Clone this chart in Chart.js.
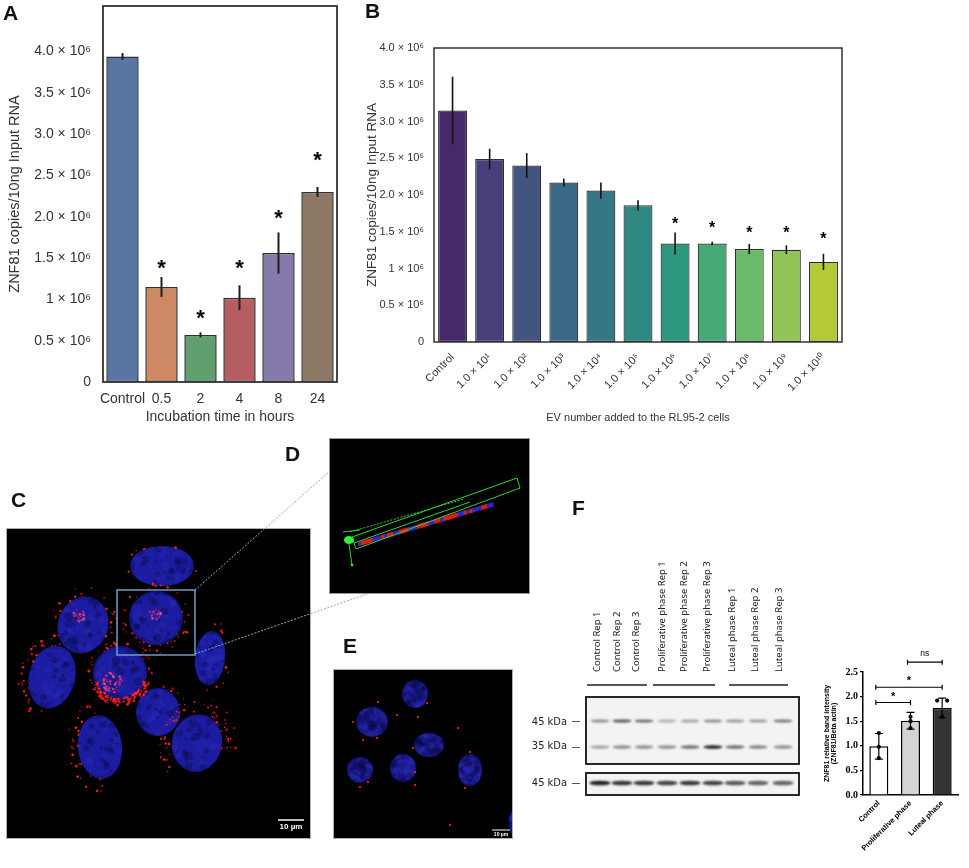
<!DOCTYPE html>
<html>
<head>
<meta charset="utf-8">
<title>ZNF81 figure</title>
<script src="https://cdn.jsdelivr.net/npm/chart.js@4.4.1/dist/chart.umd.min.js"></script>
<style>
  html, body { margin: 0; padding: 0; background: #fff; }
  #page { position: relative; width: 969px; height: 868px; overflow: hidden; font-family: 'Liberation Sans', Arial, sans-serif; }
  canvas { position: absolute; }
  .letter { position: absolute; font: bold 21px/21px 'Liberation Sans', Arial, sans-serif; color: #111; z-index: 3; }
  .kda { position: absolute; width: 60px; text-align: right; font: 11px/12px 'Liberation Sans Narrow', 'DejaVu Sans Condensed', 'Liberation Sans', sans-serif; color: #222; z-index: 3; }
  .lane { position: absolute; top: 672px; transform-origin: 0 0; transform: rotate(-90deg); white-space: nowrap; font: 9.5px/12px 'Noto Sans', sans-serif; color: #222; z-index: 3; }
  .scalebar { position: absolute; color: #fff; font-weight: bold; white-space: nowrap; text-align: center; z-index: 3; }
</style>
</head>
<body>
<div id="page">
  <canvas id="pics" width="969" height="868" style="left:0;top:0;z-index:0"></canvas>
  <canvas id="chartA" width="345" height="428" style="left:0;top:0;z-index:1"></canvas>
  <canvas id="chartB" width="497" height="428" style="left:358px;top:0;z-index:1"></canvas>
  <canvas id="chartF" width="154" height="228" style="left:815px;top:640px;z-index:1"></canvas>

  <div class="letter" style="left:3px;top:2px">A</div>
  <div class="letter" style="left:365px;top:0px">B</div>
  <div class="letter" style="left:11px;top:489px">C</div>
  <div class="letter" style="left:285px;top:443px">D</div>
  <div class="letter" style="left:343px;top:635px">E</div>
  <div class="letter" style="left:572px;top:497px">F</div>

  <div class="scalebar" style="left:276px;top:822px;width:30px;font-size:8px;line-height:10px">10 µm</div>
  <div class="scalebar" style="left:489px;top:831px;width:24px;font-size:5px;line-height:6px">10 µm</div>

  <div class="kda" style="left:507px;top:716px">45 kDa</div>
  <div class="kda" style="left:507px;top:740px">35 kDa</div>
  <div class="kda" style="left:507px;top:777px">45 kDa</div>
  <div id="lanes"></div>
</div>

<script>
const SANS = "'Liberation Sans', Arial, sans-serif";
const SERIF = "'Liberation Serif', 'Times New Roman', serif";

// Panel A - incubation time
const hoursLabels = ['Control', '0.5', '2', '4', '8', '24'];
const hoursMean = [3.94e6, 1.15e6, 0.57e6, 1.02e6, 1.56e6, 2.30e6];
const hoursErr = [0.04e6, 0.12e6, 0.03e6, 0.15e6, 0.25e6, 0.06e6];
const hoursStar = [null, 1.45e6, 0.84e6, 1.45e6, 2.06e6, 2.76e6];
const hoursColors = ['#5975a4', '#cc8963', '#5f9e6e', '#b55d60', '#857aab', '#8d7866'];

// Panel B - EV number
const evLabels = ['Control', '1.0 × 10¹', '1.0 × 10²', '1.0 × 10³', '1.0 × 10⁴', '1.0 × 10⁵',
  '1.0 × 10⁶', '1.0 × 10⁷', '1.0 × 10⁸', '1.0 × 10⁹', '1.0 × 10¹⁰'];
const evMean = [3.15e6, 2.49e6, 2.40e6, 2.17e6, 2.06e6, 1.86e6, 1.34e6, 1.34e6, 1.265e6, 1.255e6, 1.09e6];
const evErr = [0.46e6, 0.14e6, 0.17e6, 0.055e6, 0.11e6, 0.07e6, 0.15e6, 0.025e6, 0.07e6, 0.06e6, 0.11e6];
const evStar = [null, null, null, null, null, null, 1.66e6, 1.61e6, 1.545e6, 1.545e6, 1.455e6];
const evColors = ['#47296b', '#473f7a', '#43557f', '#3c6985', '#367685', '#2f8882', '#2e987e',
  '#45aa75', '#69ba6a', '#92c45a', '#b5c938'];

// shared y ticks of A and B
const copyTicks = [0, 0.5e6, 1e6, 1.5e6, 2e6, 2.5e6, 3e6, 3.5e6, 4e6];
const copyTickLabels = ['0', '0.5 × 10⁶', '1 × 10⁶', '1.5 × 10⁶', '2.0 × 10⁶', '2.5 × 10⁶',
  '3.0 × 10⁶', '3.5 × 10⁶', '4.0 × 10⁶'];

// Panel F - band intensity
const phaseLabels = ['Control', 'Proliferative phase', 'Luteal phase'];
const phaseMean = [0.99, 1.51, 1.77];
const phaseSD = [0.26, 0.17, 0.20];
const phasePoints = [[1.26, 0.98, 0.75], [1.59, 1.50, 1.36], [1.92, 1.92, 1.59]];
const phaseTicks = [0, 0.5, 1.0, 1.5, 2.0, 2.5];
const phaseCompare = [[0, 1, 1.88, '*'], [0, 2, 2.19, '*'], [1, 2, 2.70, 'ns']];

// blot lane labels
const laneLabels = ['Control Rep 1', 'Control Rep 2', 'Control Rep 3',
  'Proliferative phase Rep 1', 'Proliferative phase Rep 2', 'Proliferative phase Rep 3',
  'Luteal phase Rep 1', 'Luteal phase Rep 2', 'Luteal phase Rep 3'];

// error bars, stars and full frame for the seaborn-like panels
function errorMarks(mean, err, stars, o) {
  return {
    id: 'errorMarks',
    afterDatasetsDraw(chart) {
      const { ctx, chartArea: a, scales: { x, y } } = chart;
      ctx.save();
      ctx.strokeStyle = o.errColor;
      ctx.lineWidth = o.errWidth;
      mean.forEach((m, i) => {
        const px = x.getPixelForValue(i);
        ctx.beginPath();
        ctx.moveTo(px, y.getPixelForValue(m - err[i]));
        ctx.lineTo(px, y.getPixelForValue(m + err[i]));
        ctx.stroke();
      });
      ctx.fillStyle = '#000';
      ctx.font = `bold ${o.starSize}px ${SANS}`;
      ctx.textAlign = 'center';
      ctx.textBaseline = 'alphabetic';
      stars.forEach((s, i) => {
        if (s === null) return;
        ctx.fillText('*', x.getPixelForValue(i), y.getPixelForValue(s) + o.starSize * 0.58);
      });
      ctx.strokeStyle = o.frameColor;
      ctx.lineWidth = o.frameWidth;
      ctx.strokeRect(a.left, a.top, a.right - a.left, a.bottom - a.top);
      ctx.restore();
    }
  };
}

function copyScaleY(max, font, pad, width, title, titleFont, titlePad) {
  return {
    min: 0, max: max,
    grid: { display: false, drawTicks: false },
    border: { display: false },
    afterBuildTicks: s => { s.ticks = copyTicks.map(v => ({ value: v })); },
    ticks: {
      color: '#333', font: font, padding: pad,
      callback: v => copyTickLabels[copyTicks.indexOf(v)]
    },
    title: { display: true, text: title, color: '#333', font: titleFont, padding: { top: titlePad, bottom: 0 } },
    afterFit: s => { s.width = width; s.paddingTop = 0; s.paddingBottom = 0; }
  };
}

new Chart(document.getElementById('chartA'), {
  type: 'bar',
  data: {
    labels: hoursLabels,
    datasets: [{
      data: hoursMean,
      backgroundColor: hoursColors,
      borderColor: '#2e2e2e',
      borderWidth: 1.5,
      borderSkipped: false,
      barPercentage: 0.83,
      categoryPercentage: 1
    }]
  },
  options: {
    responsive: false,
    animation: false,
    layout: { padding: { top: 6, right: 8, left: 0, bottom: 0 } },
    plugins: { legend: { display: false }, tooltip: { enabled: false } },
    scales: {
      x: {
        grid: { display: false, drawTicks: false },
        border: { display: false },
        ticks: { color: '#333', font: { family: SANS, size: 14 }, padding: 9, autoSkip: false, maxRotation: 0 },
        title: { display: true, text: 'Incubation time in hours', color: '#333', font: { family: SANS, size: 14 }, padding: { top: 0, bottom: 2 } },
        afterFit: s => { s.height = 46; s.paddingLeft = 0; s.paddingRight = 0; }
      },
      y: copyScaleY(4.55e6, { family: SANS, size: 14 }, 12, 103,
        'ZNF81 copies/10ng Input RNA', { family: SANS, size: 14.5 }, 6)
    }
  },
  plugins: [errorMarks(hoursMean, hoursErr, hoursStar,
    { errColor: '#1e1e1e', errWidth: 2, starSize: 22, frameColor: '#333', frameWidth: 1.8 })]
});

new Chart(document.getElementById('chartB'), {
  type: 'bar',
  data: {
    labels: evLabels,
    datasets: [{
      data: evMean,
      backgroundColor: evColors,
      borderColor: '#2e2e2e',
      borderWidth: 1.2,
      borderSkipped: false,
      barPercentage: 0.78,
      categoryPercentage: 1
    }]
  },
  options: {
    responsive: false,
    animation: false,
    layout: { padding: { top: 48, right: 13, left: 0, bottom: 0 } },
    plugins: { legend: { display: false }, tooltip: { enabled: false } },
    scales: {
      x: {
        grid: { display: false, drawTicks: false },
        border: { display: false },
        ticks: { color: '#333', font: { family: SANS, size: 11 }, padding: 9, autoSkip: false, minRotation: 45, maxRotation: 45 },
        title: { display: true, text: 'EV number added to the RL95-2 cells', color: '#333', font: { family: SANS, size: 11 }, padding: { top: 0, bottom: 3 } },
        afterFit: s => { s.height = 86; s.paddingLeft = 0; s.paddingRight = 0; }
      },
      y: copyScaleY(4e6, { family: SANS, size: 11 }, 10, 76,
        'ZNF81 copies/10ng Input RNA', { family: SANS, size: 13.5 }, 6)
    }
  },
  plugins: [errorMarks(evMean, evErr, evStar,
    { errColor: '#111', errWidth: 1.6, starSize: 16, frameColor: '#333', frameWidth: 1.5 })]
});

// Panel F: SD bars, replicate points, significance brackets
const phaseMarks = {
  id: 'phaseMarks',
  afterDatasetsDraw(chart) {
    const { ctx, scales: { x, y } } = chart;
    ctx.save();
    ctx.strokeStyle = '#000';
    ctx.fillStyle = '#000';
    ctx.lineWidth = 1.2;
    phaseMean.forEach((m, i) => {
      const px = x.getPixelForValue(i);
      const top = y.getPixelForValue(m + phaseSD[i]);
      const bot = y.getPixelForValue(m - phaseSD[i]);
      ctx.beginPath();
      ctx.moveTo(px, top); ctx.lineTo(px, bot);
      ctx.moveTo(px - 4, top); ctx.lineTo(px + 4, top);
      ctx.moveTo(px - 4, bot); ctx.lineTo(px + 4, bot);
      ctx.stroke();
      const pts = phasePoints[i];
      pts.forEach((v, j) => {
        const twin = pts.findIndex((w, k) => k !== j && w === v);
        const dx = twin < 0 ? 0 : (twin > j ? -5 : 5);
        ctx.beginPath();
        ctx.arc(px + dx, y.getPixelForValue(v), 2.1, 0, Math.PI * 2);
        ctx.fill();
      });
    });
    ctx.textAlign = 'center';
    phaseCompare.forEach(([a, b, v, txt]) => {
      const x1 = x.getPixelForValue(a) - 3, x2 = x.getPixelForValue(b), py = y.getPixelForValue(v);
      ctx.beginPath();
      ctx.moveTo(x1, py); ctx.lineTo(x2, py);
      ctx.moveTo(x1, py - 2.5); ctx.lineTo(x1, py + 2.5);
      ctx.moveTo(x2, py - 2.5); ctx.lineTo(x2, py + 2.5);
      ctx.stroke();
      ctx.textBaseline = 'alphabetic';
      if (txt === '*') {
        ctx.font = `bold 11px ${SANS}`;
        ctx.fillText(txt, (x1 + x2) / 2, py - 3);
      } else {
        ctx.font = `8.5px ${SANS}`;
        ctx.fillText(txt, (x1 + x2) / 2, py - 6);
      }
    });
    ctx.restore();
  }
};

new Chart(document.getElementById('chartF'), {
  type: 'bar',
  data: {
    labels: phaseLabels,
    datasets: [{
      data: phaseMean,
      backgroundColor: ['#ffffff', '#d4d4d4', '#333333'],
      borderColor: '#000',
      borderWidth: 1.5,
      borderSkipped: 'bottom',
      barPercentage: 0.6,
      categoryPercentage: 1
    }]
  },
  options: {
    responsive: false,
    animation: false,
    layout: { padding: { top: 32, right: 11, left: 0, bottom: 0 } },
    plugins: { legend: { display: false }, tooltip: { enabled: false } },
    scales: {
      x: {
        grid: { display: false, drawTicks: false },
        border: { display: true, color: '#000', width: 1.5 },
        ticks: { color: '#000', font: { family: SANS, size: 7.5, weight: 'bold' }, padding: 4, autoSkip: false, minRotation: 45, maxRotation: 45 },
        afterFit: s => { s.height = 73; s.paddingLeft = 0; s.paddingRight = 0; }
      },
      y: {
        min: 0, max: 2.5,
        afterBuildTicks: s => { s.ticks = phaseTicks.map(v => ({ value: v })); },
        grid: { display: true, drawOnChartArea: false, drawTicks: true, tickLength: 3, color: '#000', lineWidth: 1.2 },
        border: { display: true, color: '#000', width: 1.5 },
        ticks: { color: '#000', font: { family: SERIF, size: 10, weight: 'bold' }, padding: 2, callback: v => v.toFixed(1) },
        title: {
          display: true, text: ['ZNF81 relative band intensity', '(ZNF81/Beta actin)'], color: '#000',
          font: { family: SANS, size: 7, weight: 'bold', lineHeight: 1.0 }, padding: { top: 8.5, bottom: 0 }
        },
        afterFit: s => { s.width = 48; s.paddingTop = 0; s.paddingBottom = 0; }
      }
    }
  },
  plugins: [phaseMarks]
});

// ---------- microscopy and blot images ----------
function hash(n) {
  const s = Math.sin(n * 127.1 + 311.7) * 43758.5453;
  return s - Math.floor(s);
}

function nucleus(ctx, c, base, dark, seed) {
  ctx.save();
  ctx.translate(c.x, c.y);
  ctx.rotate(c.rot);
  ctx.beginPath();
  ctx.ellipse(0, 0, c.rx, c.ry, 0, 0, Math.PI * 2);
  const g = ctx.createRadialGradient(0, 0, 0, 0, 0, Math.max(c.rx, c.ry));
  g.addColorStop(0, base);
  g.addColorStop(0.85, base);
  g.addColorStop(1, dark);
  ctx.fillStyle = g;
  ctx.fill();
  ctx.clip();
  for (let i = 0; i < 45; i++) {
    const a = hash(seed + i) * Math.PI * 2, r = Math.sqrt(hash(seed + i + 100));
    ctx.fillStyle = hash(seed + i + 300) > 0.45 ? 'rgba(8,8,70,0.35)' : 'rgba(50,50,200,0.22)';
    ctx.beginPath();
    ctx.arc(Math.cos(a) * r * c.rx, Math.sin(a) * r * c.ry, 1.2 + hash(seed + i + 200) * 3, 0, Math.PI * 2);
    ctx.fill();
  }
  ctx.restore();
}

function redDots(ctx, c, spec, seed) {
  const [n, a0, a1, k0, k1] = spec;
  for (let i = 0; i < n; i++) {
    const a = a0 + (a1 - a0) * hash(seed + i * 3.1);
    const k = k0 + (k1 - k0) * hash(seed + i * 7.3 + 50);
    const lx = Math.cos(a) * c.rx * k, ly = Math.sin(a) * c.ry * k;
    const px = c.x + lx * Math.cos(c.rot) - ly * Math.sin(c.rot);
    const py = c.y + lx * Math.sin(c.rot) + ly * Math.cos(c.rot);
    ctx.fillStyle = hash(seed + i) > 0.35 ? 'rgba(255,36,36,0.9)' : 'rgba(200,20,20,0.75)';
    ctx.beginPath();
    ctx.arc(px, py, 0.6 + hash(seed + i * 1.7 + 9) * 0.8, 0, Math.PI * 2);
    ctx.fill();
  }
}

function cluster(ctx, cl, seed) {
  const [cx, cy, r, n] = cl;
  for (let i = 0; i < n; i++) {
    const a = hash(seed + i * 2.3) * Math.PI * 2, k = Math.sqrt(hash(seed + i * 5.9 + 7)) * r;
    ctx.fillStyle = i % 3 ? 'rgba(240,40,90,0.7)' : 'rgba(255,110,170,0.6)';
    ctx.beginPath();
    ctx.arc(cx + Math.cos(a) * k, cy + Math.sin(a) * k, 0.6 + hash(seed + i) * 0.8, 0, Math.PI * 2);
    ctx.fill();
  }
}

const cCells = [
  { x: 162, y: 566, rx: 32, ry: 20, rot: 0, dots: [[8, 0, 6.28, 1.0, 1.2]] },
  { x: 83, y: 625, rx: 25, ry: 29, rot: 0.35, dots: [[28, 3.0, 6.4, 1.0, 1.35]], cl: [80, 616, 7, 26] },
  { x: 156, y: 618, rx: 27, ry: 27, rot: 0, dots: [[40, 0, 6.28, 1.0, 1.3]], cl: [155, 614, 6, 24] },
  { x: 210, y: 658, rx: 15, ry: 27, rot: 0.1, dots: [[10, -1.6, 1.6, 1.0, 1.4]] },
  { x: 52, y: 677, rx: 23, ry: 32, rot: 0.25, dots: [[34, 1.6, 4.7, 1.0, 1.45]] },
  { x: 120, y: 673, rx: 27, ry: 27, rot: 0, dots: [[150, 0.3, 2.8, 0.92, 1.2], [25, 2.9, 6.5, 1.0, 1.2]], cl: [113, 683, 11, 60] },
  { x: 158, y: 712, rx: 22, ry: 24, rot: 0, dots: [[8, 3.5, 6.0, 1.0, 1.3]] },
  { x: 100, y: 747, rx: 22, ry: 32, rot: -0.1, dots: [[34, 1.5, 4.8, 1.0, 1.5]] },
  { x: 197, y: 743, rx: 25, ry: 29, rot: 0.2, dots: [[28, 2.0, 4.5, 1.0, 1.5], [28, -1.6, 0.2, 1.0, 1.6]] }
];

const eCells = [
  { x: 415, y: 694, rx: 13, ry: 14, rot: 0 },
  { x: 372, y: 722, rx: 16, ry: 15, rot: 0 },
  { x: 429, y: 745, rx: 15, ry: 12, rot: 0 },
  { x: 360, y: 770, rx: 13, ry: 13, rot: 0 },
  { x: 403, y: 768, rx: 13, ry: 14, rot: 0 },
  { x: 470, y: 770, rx: 12, ry: 16, rot: 0 }
];
const eDots = [[378, 702], [397, 715], [353, 722], [377, 738], [363, 740], [413, 748], [427, 703],
  [458, 728], [470, 752], [360, 787], [368, 782], [465, 788], [415, 772], [415, 785], [450, 825], [418, 717]];

function drawPictures() {
  const ctx = document.getElementById('pics').getContext('2d');

  // C
  ctx.fillStyle = '#000';
  ctx.fillRect(6, 528, 304, 310);
  ctx.strokeStyle = '#b0b0b0'; ctx.lineWidth = 1;
  ctx.strokeRect(6.5, 528.5, 304, 310);
  ctx.save();
  ctx.beginPath(); ctx.rect(6, 528, 304, 310); ctx.clip();
  cCells.forEach((c, i) => nucleus(ctx, c, '#1c1ca0', '#13137a', i * 97));
  cCells.forEach((c, i) => {
    c.dots.forEach((d, j) => redDots(ctx, c, d, i * 131 + j * 17));
    if (c.cl) cluster(ctx, c.cl, i * 53);
  });
  ctx.restore();
  ctx.strokeStyle = '#6f9cc4'; ctx.lineWidth = 1.5;
  ctx.strokeRect(117, 590, 78, 65);
  ctx.strokeStyle = '#fff'; ctx.lineWidth = 1.5;
  ctx.beginPath(); ctx.moveTo(278, 820); ctx.lineTo(304, 820); ctx.stroke();

  // connectors to D
  ctx.strokeStyle = '#86aed0'; ctx.lineWidth = 1; ctx.setLineDash([2, 1.5]);
  ctx.beginPath(); ctx.moveTo(195, 590); ctx.lineTo(329, 472); ctx.stroke();
  ctx.beginPath(); ctx.moveTo(195, 654); ctx.lineTo(370, 593); ctx.stroke();
  ctx.setLineDash([]);

  // D
  ctx.fillStyle = '#000';
  ctx.fillRect(329, 438, 200, 155);
  ctx.strokeStyle = '#999'; ctx.lineWidth = 1;
  ctx.strokeRect(329.5, 438.5, 200, 155);
  for (let i = 0; i < 46; i++) {
    const t = i / 45, px = 358 + t * (490 - 358), py = 544 + t * (505 - 544);
    ctx.fillStyle = hash(i * 3 + 1) > 0.45 ? '#e21a1a' : '#2a2ac4';
    ctx.fillRect(px, py - 2.5, 3.5, 4.5);
  }
  ctx.strokeStyle = '#2fd62f'; ctx.lineWidth = 1;
  ctx.beginPath();
  ctx.moveTo(352, 537); ctx.lineTo(517, 478); ctx.lineTo(520, 488); ctx.lineTo(356, 549); ctx.closePath();
  ctx.stroke();
  ctx.beginPath(); ctx.moveTo(354, 543); ctx.lineTo(470, 502); ctx.stroke();
  ctx.setLineDash([2, 1.5]);
  ctx.beginPath(); ctx.moveTo(350, 532); ctx.lineTo(464, 499); ctx.stroke();
  ctx.setLineDash([]);
  ctx.fillStyle = '#34ee34';
  ctx.beginPath(); ctx.ellipse(349, 540, 5, 4, 0, 0, Math.PI * 2); ctx.fill();
  ctx.beginPath(); ctx.moveTo(349, 544); ctx.lineTo(352, 565); ctx.stroke();
  ctx.beginPath(); ctx.arc(352, 565, 1.3, 0, Math.PI * 2); ctx.fill();
  ctx.beginPath(); ctx.moveTo(343, 532); ctx.lineTo(360, 530); ctx.stroke();

  // E
  ctx.fillStyle = '#000';
  ctx.fillRect(333, 669, 179, 169);
  ctx.strokeStyle = '#b0b0b0'; ctx.lineWidth = 1;
  ctx.strokeRect(333.5, 669.5, 179, 169);
  ctx.save();
  ctx.beginPath(); ctx.rect(333, 669, 179, 169); ctx.clip();
  eCells.forEach((c, i) => nucleus(ctx, c, '#1a1a8a', '#10106a', i * 71 + 900));
  nucleus(ctx, { x: 514, y: 822, rx: 5, ry: 12, rot: 0 }, '#1a1a8a', '#10106a', 5);
  ctx.fillStyle = '#ff2828';
  eDots.forEach(([px, py]) => { ctx.beginPath(); ctx.arc(px, py, 1.1, 0, Math.PI * 2); ctx.fill(); });
  ctx.restore();
  ctx.strokeStyle = '#fff'; ctx.lineWidth = 1;
  ctx.beginPath(); ctx.moveTo(492, 830); ctx.lineTo(510, 830); ctx.stroke();

  // F western blot
  const laneX = [600, 622, 644, 667, 690, 713, 735, 758, 783];
  const upper = [0.45, 0.7, 0.6, 0.3, 0.35, 0.45, 0.4, 0.4, 0.55];
  const lower = [0.35, 0.45, 0.45, 0.45, 0.6, 0.95, 0.6, 0.5, 0.45];
  const actin = [0.95, 0.85, 0.85, 0.8, 0.85, 0.8, 0.7, 0.65, 0.65];
  ctx.fillStyle = '#f3f3f3';
  ctx.fillRect(586, 697, 213, 67);
  ctx.fillRect(586, 773, 213, 22);
  function band(px, py, w, h, a) {
    ctx.save();
    ctx.filter = 'blur(0.8px)';
    ctx.fillStyle = `rgba(20,20,20,${a})`;
    ctx.beginPath(); ctx.ellipse(px, py, w / 2, h / 2, 0, 0, Math.PI * 2); ctx.fill();
    ctx.restore();
  }
  laneX.forEach((lx, i) => {
    band(lx, 721, 19, 3.2, upper[i]);
    band(lx, 747, 19, 3.6, lower[i]);
    band(lx, 783, 21, 4.6, actin[i]);
  });
  ctx.strokeStyle = '#111'; ctx.lineWidth = 1.8;
  ctx.strokeRect(586, 697, 213, 67);
  ctx.strokeRect(586, 773, 213, 22);
  ctx.strokeStyle = '#555'; ctx.lineWidth = 1;
  [721, 747, 783].forEach(py => { ctx.beginPath(); ctx.moveTo(572, py + 0.5); ctx.lineTo(580, py + 0.5); ctx.stroke(); });
  ctx.strokeStyle = '#222'; ctx.lineWidth = 1.5;
  [[587, 647], [653, 715], [729, 788]].forEach(([a, b]) => {
    ctx.beginPath(); ctx.moveTo(a, 685); ctx.lineTo(b, 685); ctx.stroke();
  });
}
drawPictures();

// rotated lane labels
const laneCenters = [597, 617, 636, 662, 684, 707, 732, 755, 779];
const lanes = document.getElementById('lanes');
laneLabels.forEach((t, i) => {
  const d = document.createElement('div');
  d.className = 'lane';
  d.style.left = (laneCenters[i] - 6) + 'px';
  d.textContent = t;
  lanes.appendChild(d);
});
</script>
</body>
</html>
